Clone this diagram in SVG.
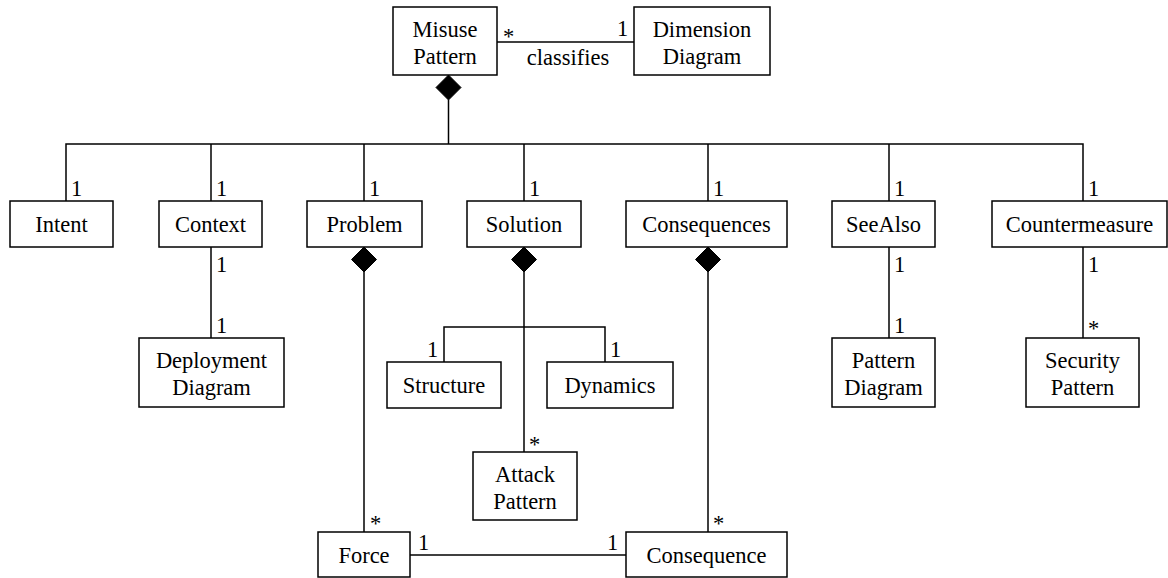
<svg xmlns="http://www.w3.org/2000/svg" width="1168" height="578" viewBox="0 0 1168 578">
<style>
.n rect{fill:#fff;stroke:#000;stroke-width:1.5}
.c line,.c polyline{stroke:#000;stroke-width:1.5;fill:none}
.c polygon{fill:#000;stroke:#000;stroke-width:1}
text{font-family:"Liberation Serif","Times New Roman",serif;font-size:22.5px;fill:#000}
.m{text-anchor:middle}
</style>
<rect width="1168" height="578" fill="#fff"/>
<g class="c" id="connectors">
<line x1="497" y1="42" x2="634" y2="42"/>
<polygon points="448.5,75 461,87.5 448.5,100 436,87.5"/>
<line x1="448.5" y1="100" x2="448.5" y2="144"/>
<polyline points="66,201 66,144 1083,144 1083,201"/>
<line x1="211" y1="144" x2="211" y2="201"/>
<line x1="364" y1="144" x2="364" y2="201"/>
<line x1="524" y1="144" x2="524" y2="201"/>
<line x1="708" y1="144" x2="708" y2="201"/>
<line x1="889" y1="144" x2="889" y2="201"/>
<line x1="211" y1="247" x2="211" y2="338"/>
<polygon points="364,247 376.5,259.5 364,272 351.5,259.5"/>
<line x1="364" y1="272" x2="364" y2="532"/>
<polygon points="524,247 536.5,259.5 524,272 511.5,259.5"/>
<line x1="524" y1="272" x2="524" y2="452"/>
<polyline points="444,362 444,327 605,327 605,362"/>
<polygon points="708,247 720.5,259.5 708,272 695.5,259.5"/>
<line x1="708" y1="272" x2="708" y2="532"/>
<line x1="410" y1="555" x2="626" y2="555"/>
<line x1="889" y1="247" x2="889" y2="338"/>
<line x1="1083" y1="247" x2="1083" y2="338"/>
</g>
<g id="labels">
<text x="503" y="44">*</text>
<text x="617" y="36">1</text>
<text class="m" x="568" y="65">classifies</text>
<text x="71" y="196">1</text>
<text x="216" y="196">1</text>
<text x="369" y="196">1</text>
<text x="529" y="196">1</text>
<text x="713" y="196">1</text>
<text x="894" y="196">1</text>
<text x="1088" y="196">1</text>
<text x="216" y="272">1</text>
<text x="216" y="333">1</text>
<text x="427" y="357">1</text>
<text x="610" y="357">1</text>
<text x="529" y="452">*</text>
<text x="370" y="531">*</text>
<text x="713" y="531">*</text>
<text x="418" y="550">1</text>
<text x="607" y="550">1</text>
<text x="894" y="272">1</text>
<text x="894" y="333">1</text>
<text x="1088" y="272">1</text>
<text x="1088" y="336">*</text>
</g>
<g class="n" id="misuse-pattern"><rect x="393" y="7" width="104" height="68"/><text class="m" x="445" y="37">Misuse</text><text class="m" x="445" y="64">Pattern</text></g>
<g class="n" id="dimension-diagram"><rect x="634" y="7" width="136" height="68"/><text class="m" x="702" y="37">Dimension</text><text class="m" x="702" y="64">Diagram</text></g>
<g class="n" id="intent"><rect x="10" y="201" width="103" height="46"/><text class="m" x="61.5" y="232">Intent</text></g>
<g class="n" id="context"><rect x="159" y="201" width="103" height="46"/><text class="m" x="210.5" y="232">Context</text></g>
<g class="n" id="problem"><rect x="307" y="201" width="115" height="46"/><text class="m" x="364.5" y="232">Problem</text></g>
<g class="n" id="solution"><rect x="467" y="201" width="114" height="46"/><text class="m" x="524" y="232">Solution</text></g>
<g class="n" id="consequences"><rect x="626" y="201" width="161" height="46"/><text class="m" x="706.5" y="232">Consequences</text></g>
<g class="n" id="seealso"><rect x="832" y="201" width="103" height="46"/><text class="m" x="883.5" y="232">SeeAlso</text></g>
<g class="n" id="countermeasure"><rect x="992" y="201" width="175" height="46"/><text class="m" x="1079.5" y="232">Countermeasure</text></g>
<g class="n" id="deployment-diagram"><rect x="139" y="338" width="145" height="69"/><text class="m" x="211.5" y="368">Deployment</text><text class="m" x="211.5" y="395">Diagram</text></g>
<g class="n" id="structure"><rect x="387" y="362" width="114" height="46"/><text class="m" x="444" y="393">Structure</text></g>
<g class="n" id="dynamics"><rect x="547" y="362" width="126" height="46"/><text class="m" x="610" y="393">Dynamics</text></g>
<g class="n" id="attack-pattern"><rect x="473" y="452" width="104" height="68"/><text class="m" x="525" y="482">Attack</text><text class="m" x="525" y="509">Pattern</text></g>
<g class="n" id="pattern-diagram"><rect x="832" y="338" width="103" height="69"/><text class="m" x="883.5" y="368">Pattern</text><text class="m" x="883.5" y="395">Diagram</text></g>
<g class="n" id="security-pattern"><rect x="1026" y="338" width="113" height="69"/><text class="m" x="1082.5" y="368">Security</text><text class="m" x="1082.5" y="395">Pattern</text></g>
<g class="n" id="force"><rect x="318" y="532" width="92" height="45"/><text class="m" x="364" y="563">Force</text></g>
<g class="n" id="consequence"><rect x="626" y="532" width="161" height="45"/><text class="m" x="706.5" y="563">Consequence</text></g>
</svg>
